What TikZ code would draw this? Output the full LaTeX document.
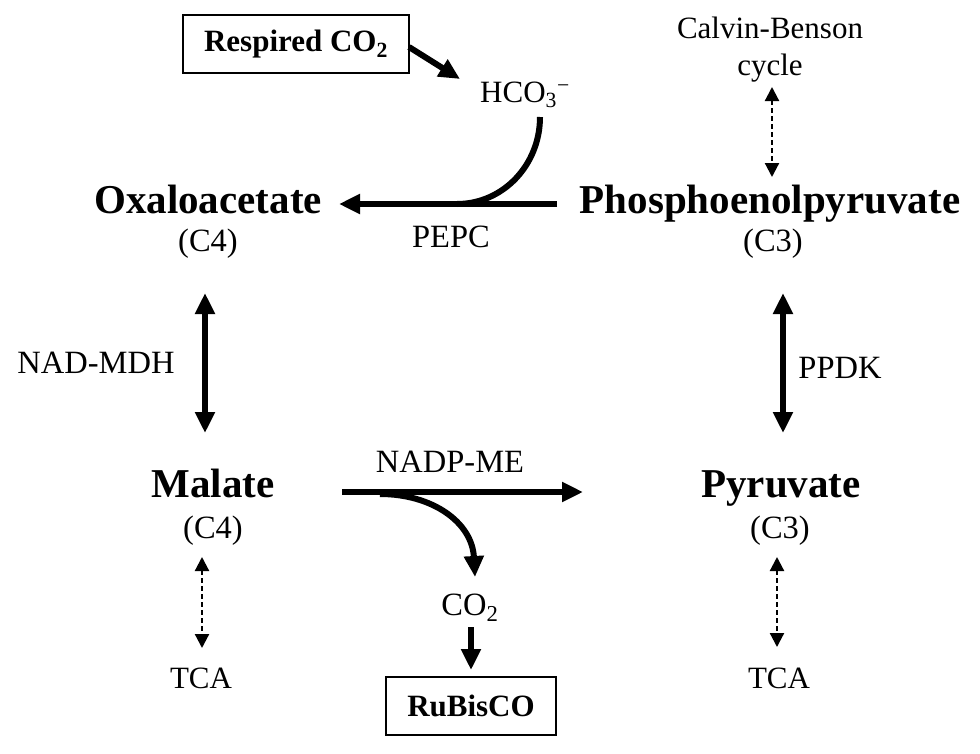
\documentclass[tikz,border=0pt]{standalone}
\usepackage{fontspec}
\setmainfont{Liberation Serif}
\usetikzlibrary{arrows.meta}
\begin{document}
\begin{tikzpicture}[x=1pt,y=-1pt,
  big/.style={font=\fontsize{41}{45}\selectfont\bfseries, inner sep=0pt, anchor=base},
  lbl/.style={font=\fontsize{32.5}{36}\selectfont, inner sep=0pt, anchor=base},
  sml/.style={font=\fontsize{31}{35}\selectfont, inner sep=0pt, anchor=base},
  boxed/.style={draw, line width=1.6pt, font=\fontsize{31}{35}\selectfont\bfseries, inner sep=0pt},
  fat/.style={line width=6pt, -{Triangle[length=21pt,width=19pt]}},
  fatboth/.style={line width=6pt, {Triangle[length=21pt,width=19pt]}-{Triangle[length=21pt,width=19pt]}},
  fatline/.style={line width=6pt},
  dashboth/.style={line width=2.2pt, dash pattern=on 5pt off 3pt, {Triangle[length=14pt,width=14pt]}-{Triangle[length=14pt,width=14pt]}}
]
\useasboundingbox (0,0) rectangle (980,753);

% metabolites
\node[big] (oxa) at (208,213) {Oxaloacetate};
\node[lbl] (oxac) at (208,251) {(C4)};
\node[big] (pep) at (770,213) {Phosphoenolpyruvate};
\node[lbl] (pepc) at (773,251) {(C3)};
\node[big] (mal) at (213,497) {Malate};
\node[lbl] (malc) at (213,538) {(C4)};
\node[big] (pyr) at (781,497) {Pyruvate};
\node[lbl] (pyrc) at (780,538) {(C3)};

% other labels
\node[sml] (cb1) at (770,38) {Calvin-Benson};
\node[sml] (cb2) at (770,75) {cycle};
\node[sml, anchor=base west] (hco) at (480,102) {HCO\textsubscript{3}\textsuperscript{−}};
\node[lbl] (pepcl) at (451,247) {PEPC};
\node[lbl] (nadmdh) at (96,373) {NAD-MDH};
\node[lbl] (ppdk) at (840,378) {PPDK};
\node[lbl] (nadpme) at (450,472) {NADP-ME};
\node[lbl] (co2) at (470,615) {CO\textsubscript{2}};
\node[sml] (tca1) at (201,688) {TCA};
\node[sml] (tca2) at (779,688) {TCA};

% boxes
\node[boxed, minimum width=226pt, minimum height=58pt] (resp) at (296,44) {Respired CO\textsubscript{2}};
\node[boxed, minimum width=170pt, minimum height=58pt] (rub) at (471,706) {RuBisCO};

% connector end points
\coordinate (pepW) at (557,204);
\coordinate (oxaE) at (339,204);
\coordinate (join1) at (457,204);
\coordinate (hcoS) at (540,117);
\coordinate (hcoW) at (460,79);
\coordinate (respE) at (409,47);
\coordinate (oxaS) at (205,293);
\coordinate (malN) at (205,433);
\coordinate (pepS) at (783,293);
\coordinate (pyrN) at (783,433);
\coordinate (malE) at (342,492);
\coordinate (pyrW) at (583,492);
\coordinate (split) at (380,494);
\coordinate (co2N) at (475,577);
\coordinate (co2S) at (471,627);
\coordinate (rubN) at (471,670);
\coordinate (cbS) at (772,87);
\coordinate (pepN) at (772,177);
\coordinate (malS) at (202,557);
\coordinate (tcaN1) at (202,648);
\coordinate (pyrS) at (777,557);
\coordinate (tcaN2) at (777,647);

% thick arrows
\draw[fat] (respE) -- (hcoW);
\draw[fat] (pepW) -- (oxaE);
\draw[fatline] (hcoS) .. controls (540,165) and (503,204) .. (join1);
\draw[fatboth] (oxaS) -- (malN);
\draw[fatboth] (pepS) -- (pyrN);
\draw[fat] (malE) -- (pyrW);
\draw[fat] (split) .. controls (432,494) and (472,522) .. (co2N);
\draw[fat] (co2S) -- (rubN);

% dashed arrows
\draw[dashboth] (cbS) -- (pepN);
\draw[dashboth] (malS) -- (tcaN1);
\draw[dashboth] (pyrS) -- (tcaN2);
\end{tikzpicture}
\end{document}
